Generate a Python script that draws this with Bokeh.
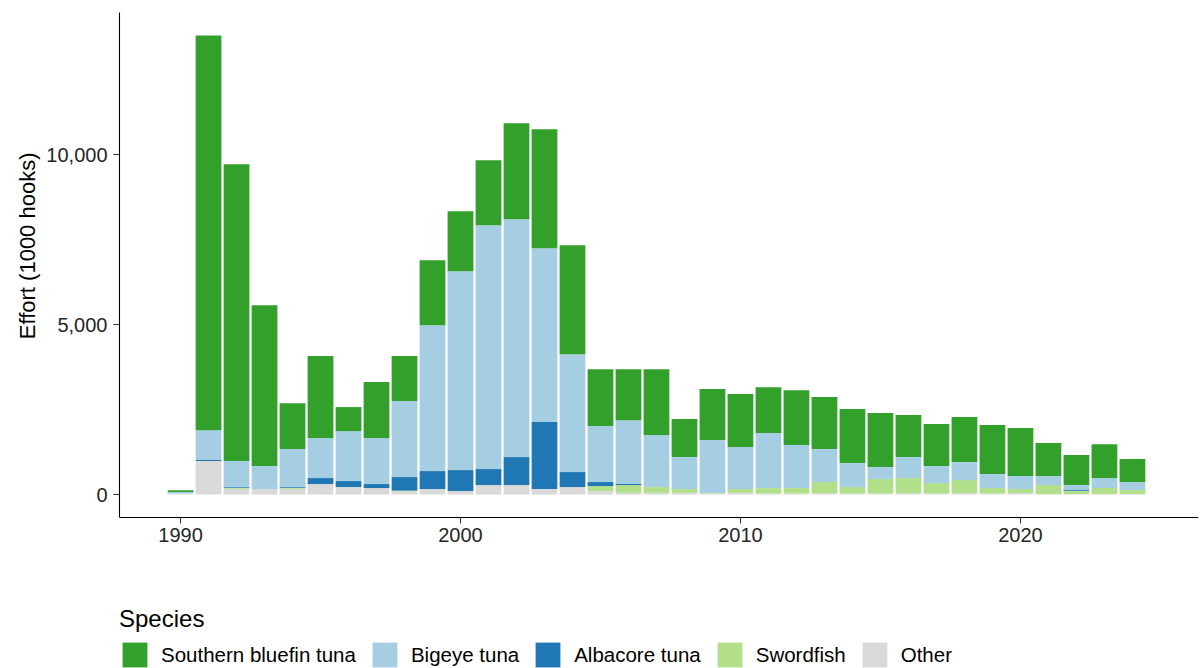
from bokeh.plotting import figure
from bokeh.models import (ColumnDataSource, Range1d, FixedTicker, NumeralTickFormatter,
                          Legend, LegendItem, Title)
from bokeh.embed import file_html
from bokeh.resources import INLINE

years = list(range(1990, 2025))
other = [30, 985, 170, 160, 170, 309, 221, 191, 90, 162,
         103, 279, 279, 162, 221, 103, 50, 50, 50, 30,
         50, 30, 30, 44, 30, 30, 44, 30, 44, 30,
         44, 20, 10, 20, 20]
swordfish = [0, 0, 30, 0, 30, 0, 0, 0, 25, 0,
             0, 0, 0, 0, 0, 147, 230, 170, 112, 15,
             112, 160, 160, 324, 191, 426, 441, 308, 382, 161,
             118, 260, 100, 170, 112]
albacore = [0, 30, 30, 0, 30, 176, 176, 118, 400, 529,
            617, 471, 824, 1970, 441, 118, 30, 0, 0, 0,
            0, 0, 0, 0, 0, 0, 0, 0, 0, 0,
            0, 0, 40, 0, 0]
bigeye = [45, 880, 755, 678, 1108, 1177, 1471, 1353, 2235, 4294,
          5854, 7176, 7000, 5118, 3470, 1647, 1880, 1530, 941, 1558,
          1235, 1618, 1265, 970, 705, 353, 618, 500, 530, 412,
          382, 265, 130, 294, 236]
sbt = [55, 11610, 8735, 4736, 1352, 2412, 706, 1647, 1324, 1912,
       1764, 1912, 2823, 3500, 3206, 1676, 1500, 1940, 1117, 1500,
       1559, 1353, 1618, 1530, 1589, 1588, 1235, 1236, 1323, 1441,
       1412, 971, 883, 1000, 676]

stack_keys = ["other", "swordfish", "albacore", "bigeye", "sbt"]
stack_colors = ["#D9D9D9", "#B2DF8A", "#1F78B4", "#A6CEE3", "#33A02C"]
legend_labels = ["Other", "Swordfish", "Albacore tuna", "Bigeye tuna", "Southern bluefin tuna"]
x_ticks = [1990, 2000, 2010, 2020]
y_ticks = [0, 5000, 10000]
y_title = "Effort (1000 hooks)"

# panel limits (ggplot-like expansion) and the extra room kept under the panel for the legend
X_MIN, X_MAX = 1987.82, 2026.36
Y_MIN, Y_MAX = -675, 14185
PANEL_PX = 505          # pixel height of the data panel
CANVAS_BOTTOM_PX = 656  # pixel height from panel top to page bottom
y_per_px = (Y_MAX - Y_MIN) / PANEL_PX
Y_FRAME_MIN = Y_MAX - CANVAS_BOTTOM_PX * y_per_px

source = ColumnDataSource(dict(year=years, other=other, swordfish=swordfish,
                               albacore=albacore, bigeye=bigeye, sbt=sbt))

FONT = "Liberation Sans"

p = figure(width=1202, height=668,
           x_range=Range1d(X_MIN, X_MAX), y_range=Range1d(Y_FRAME_MIN, Y_MAX),
           output_backend="svg", toolbar_location=None,
           min_border_left=119, min_border_top=12, min_border_right=4, min_border_bottom=0)

renderers = p.vbar_stack(stack_keys, x="year", width=0.92, source=source,
                         fill_color=stack_colors, line_color=None)

p.xgrid.grid_line_color = None
p.ygrid.grid_line_color = None
p.outline_line_color = None
p.background_fill_color = "white"
p.border_fill_color = "white"

for ax in (p.xaxis[0], p.yaxis[0]):
    ax.axis_line_color = "black"
    ax.axis_line_width = 1.1
    ax.major_tick_line_color = "#333333"
    ax.major_tick_line_width = 1.1
    ax.major_tick_in = 0
    ax.major_tick_out = 6
    ax.minor_tick_line_color = None
    ax.major_label_text_font = FONT
    ax.major_label_text_font_size = "20px"
    ax.major_label_text_color = "#262626"

p.xaxis.ticker = FixedTicker(ticks=x_ticks)
p.xaxis.major_label_standoff = 4
p.xaxis.fixed_location = Y_MIN
p.yaxis.ticker = FixedTicker(ticks=y_ticks)
p.yaxis.bounds = (Y_MIN, Y_MAX)
p.yaxis.formatter = NumeralTickFormatter(format="0,0")
p.yaxis.major_label_standoff = 6

# y-axis title placed alongside the data panel (not centred on the taller frame)
ytitle = Title(text=y_title, align="right", offset=140, standoff=8,
               text_font=FONT, text_font_size="22px", text_font_style="normal",
               text_color="black")
p.add_layout(ytitle, "left")

items = [LegendItem(label=lab, renderers=[r])
         for lab, r in zip(reversed(legend_labels), reversed(renderers))]
legend = Legend(items=items, orientation="horizontal", location=(0, -2),
                title="Species", title_text_font=FONT, title_text_font_size="24px",
                title_text_font_style="normal", title_text_color="black", title_standoff=6,
                label_text_font=FONT, label_text_font_size="20.5px", label_text_color="black",
                glyph_width=31, glyph_height=31, label_standoff=11, spacing=13,
                padding=0, margin=0, border_line_color=None, background_fill_alpha=0)
p.add_layout(legend)

open("out.html", "w").write(file_html(p, INLINE))
